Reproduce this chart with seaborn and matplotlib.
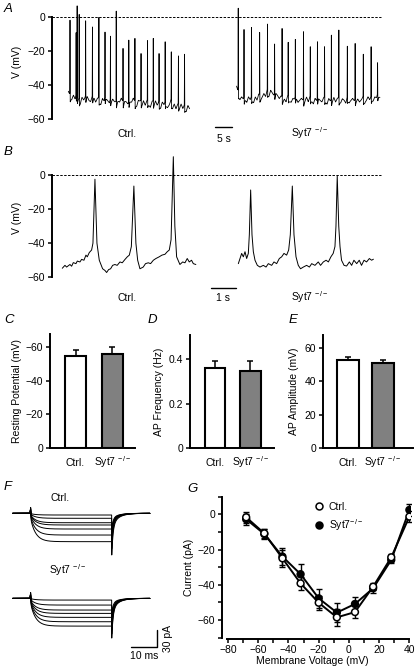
import numpy as np
import pandas as pd
import matplotlib
matplotlib.use("Agg")
import matplotlib.pyplot as plt
from matplotlib.lines import Line2D
from matplotlib.ticker import MultipleLocator
import seaborn as sns

# ---------------- data ----------------
# Panel A : spontaneous firing, long time base (s, mV)
A_ctrl_spike_t = [0.5, 2.3, 2.6, 3.2, 5.1, 7.1, 9.0, 10.8, 12.4, 14.1, 16.1, 17.8,
                  19.6, 21.4, 23.3, 25.0, 26.7, 28.5, 30.3, 32.4, 34.2]
A_ctrl_spike_peak = [-2, -10, 7.5, 2, -2.4, -6, -0.4, -9, -11.4, 3.3, -18.6, -13.7,
                     -12.7, -21.6, -14, -12.7, -21.6, -14.7, -20.6, -23, -22]
A_ctrl_base = [-44, -47, -48, -46, -49, -47, -48, -50, -47, -49,
               -48, -46, -49, -50, -48, -47, -50, -48, -49, -51,
               -48, -50, -47, -49, -51, -49, -48, -50, -51, -49,
               -50, -48, -51, -49, -50, -52, -49, -50, -48, -51,
               -52, -49, -50, -51, -49, -52, -50, -51, -53, -50,
               -51, -49, -52, -51, -53, -50, -52, -51, -53, -52,
               -50, -53, -51, -54, -52, -53, -51, -54, -53, -55,
               -52, -54]
A_ctrl_end = 35.7
A_syt_spike_t = [0.5, 2.2, 4.4, 6.8, 9.1, 11.2, 13.4, 15.2, 17.3, 19.7, 21.7, 23.8,
                 25.9, 27.9, 30.1, 32.6, 34.9, 37.3, 39.6, 41.5]
A_syt_spike_peak = [5, -7.5, -6.3, -9.2, -4.3, -16, -6.9, -15, -13.3, -8.8, -17.6, -14.7,
                    -17.6, -10.8, -7.8, -17.3, -15.7, -22, -17.6, -27]
A_syt_base = [-41, -45, -48, -47, -49, -48, -50, -47, -49, -48,
              -50, -47, -49, -46, -48, -47, -45, -47, -44, -46,
              -43, -45, -47, -44, -46, -48, -47, -49, -48, -50,
              -47, -49, -50, -48, -49, -47, -50, -49, -48, -50,
              -49, -47, -50, -48, -49, -51, -48, -50, -47, -49,
              -50, -48, -49, -51, -48, -50, -49, -47, -50, -48,
              -49, -50, -48, -49, -51, -48, -50, -49, -48, -50,
              -49, -48, -50, -49, -48, -50, -49, -47, -49, -48,
              -49, -47, -48, -46, -47]
A_syt_end = 42.2
A_syt_offset = 49.5

# Panel B : expanded time base (s, mV)
B_ctrl_t = [0, .105, .171, .303, .369, .435, .54, .593, .698, .764, .856, .935, .988, 1.067,
            1.159, 1.212, 1.291, 1.37, 1.462, 1.594, 1.687, 1.752, 1.831, 1.91, 1.99, 2.08,
            2.17, 2.28, 2.37, 2.48, 2.57, 2.65, 2.73, 2.83, 2.91, 2.98, 3.07, 3.20, 3.29,
            3.40, 3.49, 3.60, 3.70, 3.83, 3.94, 4.06, 4.15, 4.23, 4.30, 4.39, 4.45, 4.52,
            4.65, 4.76, 4.85, 4.94, 5.02, 5.11, 5.18, 5.28]
B_ctrl_v = [-54.7, -53, -54, -52.5, -53.5, -51.4, -52, -50.5, -51, -49.5, -50, -47, -48,
            -45.5, -44, -40, -2.5, -40, -50, -55, -56, -57.2, -55.5, -55, -53, -52.5, -53,
            -51, -51.5, -49.5, -48, -47, -42, -6.5, -40, -50, -55, -54, -52, -51.5, -52,
            -50, -49, -48, -47, -46.5, -45, -44, -38, 10.7, -30, -48, -52.5, -51, -51.5,
            -49, -51, -50, -52, -52.5]
B_syt_t = [0, .066, .132, .198, .264, .329, .395, .435, .487, .54, .593, .659, .751, .856,
           .988, 1.094, 1.186, 1.318, 1.41, 1.515, 1.62, 1.713, 1.805, 1.91, 1.99, 2.055,
           2.134, 2.2, 2.28, 2.37, 2.46, 2.57, 2.70, 2.81, 2.90, 3.03, 3.16, 3.25, 3.36,
           3.47, 3.56, 3.66, 3.75, 3.82, 3.86, 3.91, 3.97, 4.02, 4.08, 4.18, 4.28, 4.39,
           4.48, 4.57, 4.68, 4.78, 4.87, 4.97, 5.07, 5.18, 5.27, 5.34]
B_syt_v = [-52, -49, -46, -48, -45, -49, -46, -35, -8.8, -35, -45, -50, -53, -54, -53, -54,
           -52, -53, -51, -52, -49, -48, -46, -47, -44, -35, -6.5, -35, -48, -53, -55, -54,
           -53, -54, -52, -53, -51, -53, -51, -50, -51, -48, -46, -42, -30, -0.5, -30, -42,
           -50, -53, -53.4, -51, -53, -50, -52, -50, -53, -50, -51, -49, -50, -49.4]
B_syt_offset = 6.96

# Panels C-E : bar summaries
groups = ['Ctrl.', 'Syt7$^{\\,-/-}$']
C_rest = [-55.0, -56.2]
C_rest_err = [3.6, 4.2]
D_freq = [0.359, 0.348]
D_freq_err = [0.035, 0.046]
E_amp = [52.9, 51.3]
E_amp_err = [1.6, 1.6]

# Panel F : voltage-step current traces (ms, pA)
F_levels_ctrl = [-3, -8.8, -16.6, -20.6, -27.7, -38.3, -50]
F_levels_syt7 = [-3, -11.8, -20.6, -26.5, -33.5, -41.2, -48.9]
F_tail_ctrl = -73.5
F_tail_syt7 = -70.0
F_t_on, F_t_off, F_t_end = 6.9, 38.1, 52.8

# Panel G : I-V relation
G_volt = [-68, -56, -44, -32, -20, -8, 4, 16, 28, 40]
G_ctrl = [-1.7, -10.8, -25, -39.2, -50.2, -58.5, -55.5, -41.1, -24.4, -1.3]
G_ctrl_err = [3, 2.5, 5, 3.5, 4, 5, 3.5, 2, 2, 3]
G_syt7 = [-2.8, -11.2, -24, -34, -47.7, -55.8, -50.9, -42, -25.9, 2.5]
G_syt7_err = [3, 3, 5, 6, 5.5, 5.5, 4, 2.5, 2, 3.5]

# ---------------- style ----------------
sns.set_theme(style="ticks")
plt.rcParams['font.family'] = ['Liberation Sans', 'DejaVu Sans']
plt.rcParams.update({
    'mathtext.fontset': 'custom', 'mathtext.rm': 'Liberation Sans',
    'mathtext.it': 'Liberation Sans:italic', 'mathtext.bf': 'Liberation Sans:bold',
    'font.size': 7.5, 'axes.labelsize': 7.5, 'xtick.labelsize': 7.5,
    'ytick.labelsize': 7.5, 'legend.fontsize': 7.5, 'axes.linewidth': 1.4,
    'axes.edgecolor': 'black',
    'xtick.color': 'black', 'ytick.color': 'black', 'text.color': 'black',
    'axes.labelcolor': 'black', 'xtick.major.size': 3, 'ytick.major.size': 3,
    'xtick.major.width': 1.1, 'ytick.major.width': 1.1,
    'xtick.minor.size': 3, 'ytick.minor.size': 3,
    'xtick.minor.width': 1.1, 'ytick.minor.width': 1.1,
    'xtick.major.pad': 2, 'ytick.major.pad': 2,
})

W, H = 416, 668
fig = plt.figure(figsize=(W / 100, H / 100), dpi=100)


def add_ax(l, t, r, b):
    return fig.add_axes([l / W, 1 - b / H, (r - l) / W, (b - t) / H])


def ftext(x, y, s, **kw):
    kw.setdefault('ha', 'center')
    kw.setdefault('va', 'baseline')
    fig.text(x / W, 1 - y / H, s, **kw)


def letter(x, y, s):
    fig.text(x / W, 1 - y / H, s, ha='left', va='top', fontsize=9.5, fontstyle='italic')


def ylabel_at(ax, text, px_x, l, r):
    ax.set_ylabel(text, va='center')
    ax.yaxis.set_label_coords((px_x - l) / (r - l), 0.5)


def build_A(base, t_end, spk_t, spk_v):
    bt = np.linspace(0, t_end, len(base))
    t = np.arange(0, t_end, 0.01)
    v = np.interp(t, bt, base)
    for ts, pk in zip(spk_t, spk_v):
        b = np.interp(ts, bt, base)
        dt = t - ts
        v = v + (pk - b) * np.clip(1 - np.abs(dt) / 0.07, 0, None)
        v = v + np.where(dt > 0.05, -3.0 * np.exp(-(dt - 0.05) / 0.3), 0)
        v = v + np.where((dt < 0) & (dt > -1.2), 2.0 * np.exp(dt / 0.25), 0)
    return t, v


# ---------------- Panel A ----------------
lA, rA = 52, 382
axA = add_ax(lA, 1.4, rA, 122.4)
t, v = build_A(A_ctrl_base, A_ctrl_end, A_ctrl_spike_t, A_ctrl_spike_peak)
axA.plot(t, v, color='black', lw=0.6)
t, v = build_A(A_syt_base, A_syt_end, A_syt_spike_t, A_syt_spike_peak)
axA.plot(t + A_syt_offset, v, color='black', lw=0.6)
axA.set_xlim(-4.8, 92.3)
axA.set_ylim(-62, 9)
axA.plot([-4.8, 92.0], [0, 0], color='black', lw=0.7, ls=(0, (2.5, 1.5)))
axA.plot([43.1, 48.1], [-64.7, -64.7], color='black', lw=1.0, clip_on=False)
axA.set_xticks([])
axA.set_yticks([0, -20, -40, -60])
for s in ['top', 'right', 'bottom']:
    axA.spines[s].set_visible(False)
axA.spines['left'].set_bounds(-60, 0)
ylabel_at(axA, 'V (mV)', 17, lA, rA)
ftext(127, 137, 'Ctrl.')
ftext(223.5, 142, '5 s')
ftext(310, 137, 'Syt7$^{\\,-/-}$')
letter(4, 3, 'A')

# ---------------- Panel B ----------------
axB = add_ax(lA, 154.5, rA, 280.7)
axB.plot(B_ctrl_t, B_ctrl_v, color='black', lw=0.7)
axB.plot(np.array(B_syt_t) + B_syt_offset, B_syt_v, color='black', lw=0.7)
axB.set_xlim(-0.407, 12.64)
axB.set_ylim(-62, 12)
axB.plot([-0.407, 12.6], [0, 0], color='black', lw=0.7, ls=(0, (2.5, 1.5)))
axB.plot([5.87, 6.87], [-66, -66], color='black', lw=1.0, clip_on=False)
axB.set_xticks([])
axB.set_yticks([0, -20, -40, -60])
for s in ['top', 'right', 'bottom']:
    axB.spines[s].set_visible(False)
axB.spines['left'].set_bounds(-60, 0)
ylabel_at(axB, 'V (mV)', 17, lA, rA)
ftext(127, 301, 'Ctrl.')
ftext(223, 301, '1 s')
ftext(310, 301, 'Syt7$^{\\,-/-}$')
letter(4, 146, 'B')


# ---------------- Panels C, D, E ----------------
def bar_panel(box, vals, errs, ylim, yticks, xlim, width, label, lab_x):
    l, t_, r, b = box
    ax = add_ax(l, t_, r, b)
    df = pd.DataFrame({'group': groups, 'value': vals})
    sns.barplot(data=df, x='group', y='value', hue='group', order=groups,
                hue_order=groups, palette=['white', '#808080'], edgecolor='black',
                linewidth=1.5, width=width, errorbar=None, legend=False, ax=ax)
    lower = [0, 0]
    if vals[0] < 0:
        ax.errorbar([0, 1], vals, yerr=[errs, lower], fmt='none', ecolor='black',
                    elinewidth=1.1, capsize=2.5, capthick=1.1, zorder=0.5)
    else:
        ax.errorbar([0, 1], vals, yerr=[lower, errs], fmt='none', ecolor='black',
                    elinewidth=1.1, capsize=2.5, capthick=1.1, zorder=0.5)
    ax.set_ylim(*ylim)
    ax.set_xlim(*xlim)
    ax.set_yticks(yticks)
    ax.set_xlabel('')
    ax.tick_params(axis='x', length=0, pad=13)
    for lbl in ax.get_xticklabels():
        lbl.set_va('baseline')
    sns.despine(ax=ax)
    ylabel_at(ax, label, lab_x, l, r)
    return ax


axC = bar_panel((50, 334, 135, 447.7), C_rest, C_rest_err, (0, -68), [0, -20, -40, -60],
                (-0.69, 1.61), 0.57, 'Resting Potential (mV)', 17.5)
axD = bar_panel((190, 335, 274, 447.7), D_freq, D_freq_err, (0, 0.51), [0, 0.2, 0.4],
                (-0.71, 1.67), 0.58, 'AP Frequency (Hz)', 159)
axD.set_yticklabels(['0', '0.2', '0.4'])
axE = bar_panel((323.3, 335, 413.3, 447.7), E_amp, E_amp_err, (0, 68), [0, 20, 40, 60],
                (-0.69, 1.85), 0.62, 'AP Amplitude (mV)', 294)
letter(4, 314, 'C')
letter(148, 314, 'D')
letter(289, 314, 'E')

# ---------------- Panel F ----------------
axF = add_ax(0, 490, 175, 665)
axF.set_xlim(-4.88, 62.42)
axF.set_ylim(-267.5, 41.1)
axF.axis('off')
tF = np.arange(0, F_t_end, 0.05)


def draw_F(levels, tail_peak, offset):
    lmin = min(levels)
    for L in levels:
        I = np.zeros_like(tF)
        on = (tF >= F_t_on) & (tF < F_t_off)
        dt = tF - F_t_on
        I[on] = L * (1 - 0.8 * np.exp(-dt[on] / 2.0))
        I += 11 * np.exp(-np.abs(tF - F_t_on) / 0.12)
        off = tF >= F_t_off
        dtt = tF[off] - F_t_off
        amp = tail_peak * (0.35 + 0.65 * L / lmin)
        I[off] = amp * (0.7 * np.exp(-dtt / 0.5) + 0.3 * np.exp(-dtt / 2.5))
        axF.plot(tF, I + offset, color='black', lw=0.7)


draw_F(F_levels_ctrl, F_tail_ctrl, 0)
draw_F(F_levels_syt7, F_tail_syt7, -150)
axF.plot([45.5, 55.5, 55.5], [-235.8, -235.8, -205.8], color='black', lw=1.0,
         clip_on=False)
axF.text(50.5, -252, '10 ms', ha='center', va='center')
axF.text(59.8, -221, '30 pA', ha='center', va='center', rotation=90)
ftext(60, 501, 'Ctrl.')
ftext(49, 574, 'Syt7$^{\\,-/-}$', ha='left')
letter(4, 481, 'F')

# ---------------- Panel G ----------------
lG, rG = 222, 410.9
axG = add_ax(lG, 495.8, rG, 638.5)
dfG = pd.DataFrame({
    'V': G_volt + G_volt,
    'I': G_syt7 + G_ctrl,
    'group': ['Syt7'] * len(G_volt) + ['Ctrl.'] * len(G_volt),
})
sns.lineplot(data=dfG, x='V', y='I', hue='group', palette={'Syt7': 'black', 'Ctrl.': 'black'},
             lw=1.4, estimator=None, legend=False, ax=axG)
axG.errorbar(G_volt, G_syt7, yerr=G_syt7_err, fmt='none', ecolor='black', elinewidth=1.0,
             capsize=2.5, capthick=1.0, zorder=2.5)
axG.errorbar(G_volt, G_ctrl, yerr=G_ctrl_err, fmt='none', ecolor='black', elinewidth=1.0,
             capsize=2.5, capthick=1.0, zorder=2.5)
sns.scatterplot(data=dfG, x='V', y='I', hue='group',
                palette={'Syt7': 'black', 'Ctrl.': 'white'}, edgecolor='black',
                linewidth=1.1, s=24, legend=False, zorder=3, ax=axG)
axG.set_xlim(-84, 41)
axG.set_ylim(-70.5, 10.5)
axG.set_xticks([-80, -60, -40, -20, 0, 20, 40])
axG.set_yticks([0, -20, -40, -60])
axG.xaxis.set_minor_locator(MultipleLocator(10))
axG.yaxis.set_minor_locator(MultipleLocator(10))
sns.despine(ax=axG)
axG.spines['bottom'].set_bounds(-80.5, 40)
axG.spines['left'].set_bounds(-70, 10)
axG.set_xlabel('Membrane Voltage (mV)', va='center')
axG.xaxis.set_label_coords(0.48, (638.5 - 661) / (638.5 - 495.8))
ylabel_at(axG, 'Current (pA)', 189, lG, rG)
handles = [Line2D([], [], marker='o', ls='none', mfc='white', mec='black', mew=1.1, ms=5),
           Line2D([], [], marker='o', ls='none', mfc='black', mec='black', mew=1.1, ms=5)]
axG.legend(handles, ['Ctrl.', 'Syt7$^{-/-}$'], loc='upper left', fontsize=7.5,
           bbox_to_anchor=((314 - lG) / (rG - lG), (638.5 - 502) / (638.5 - 495.8)),
           frameon=False, borderpad=0, handlelength=1.0, handletextpad=0.4,
           labelspacing=0.5, borderaxespad=0)
letter(187, 483, 'G')

fig.savefig('out.png', dpi=100)
